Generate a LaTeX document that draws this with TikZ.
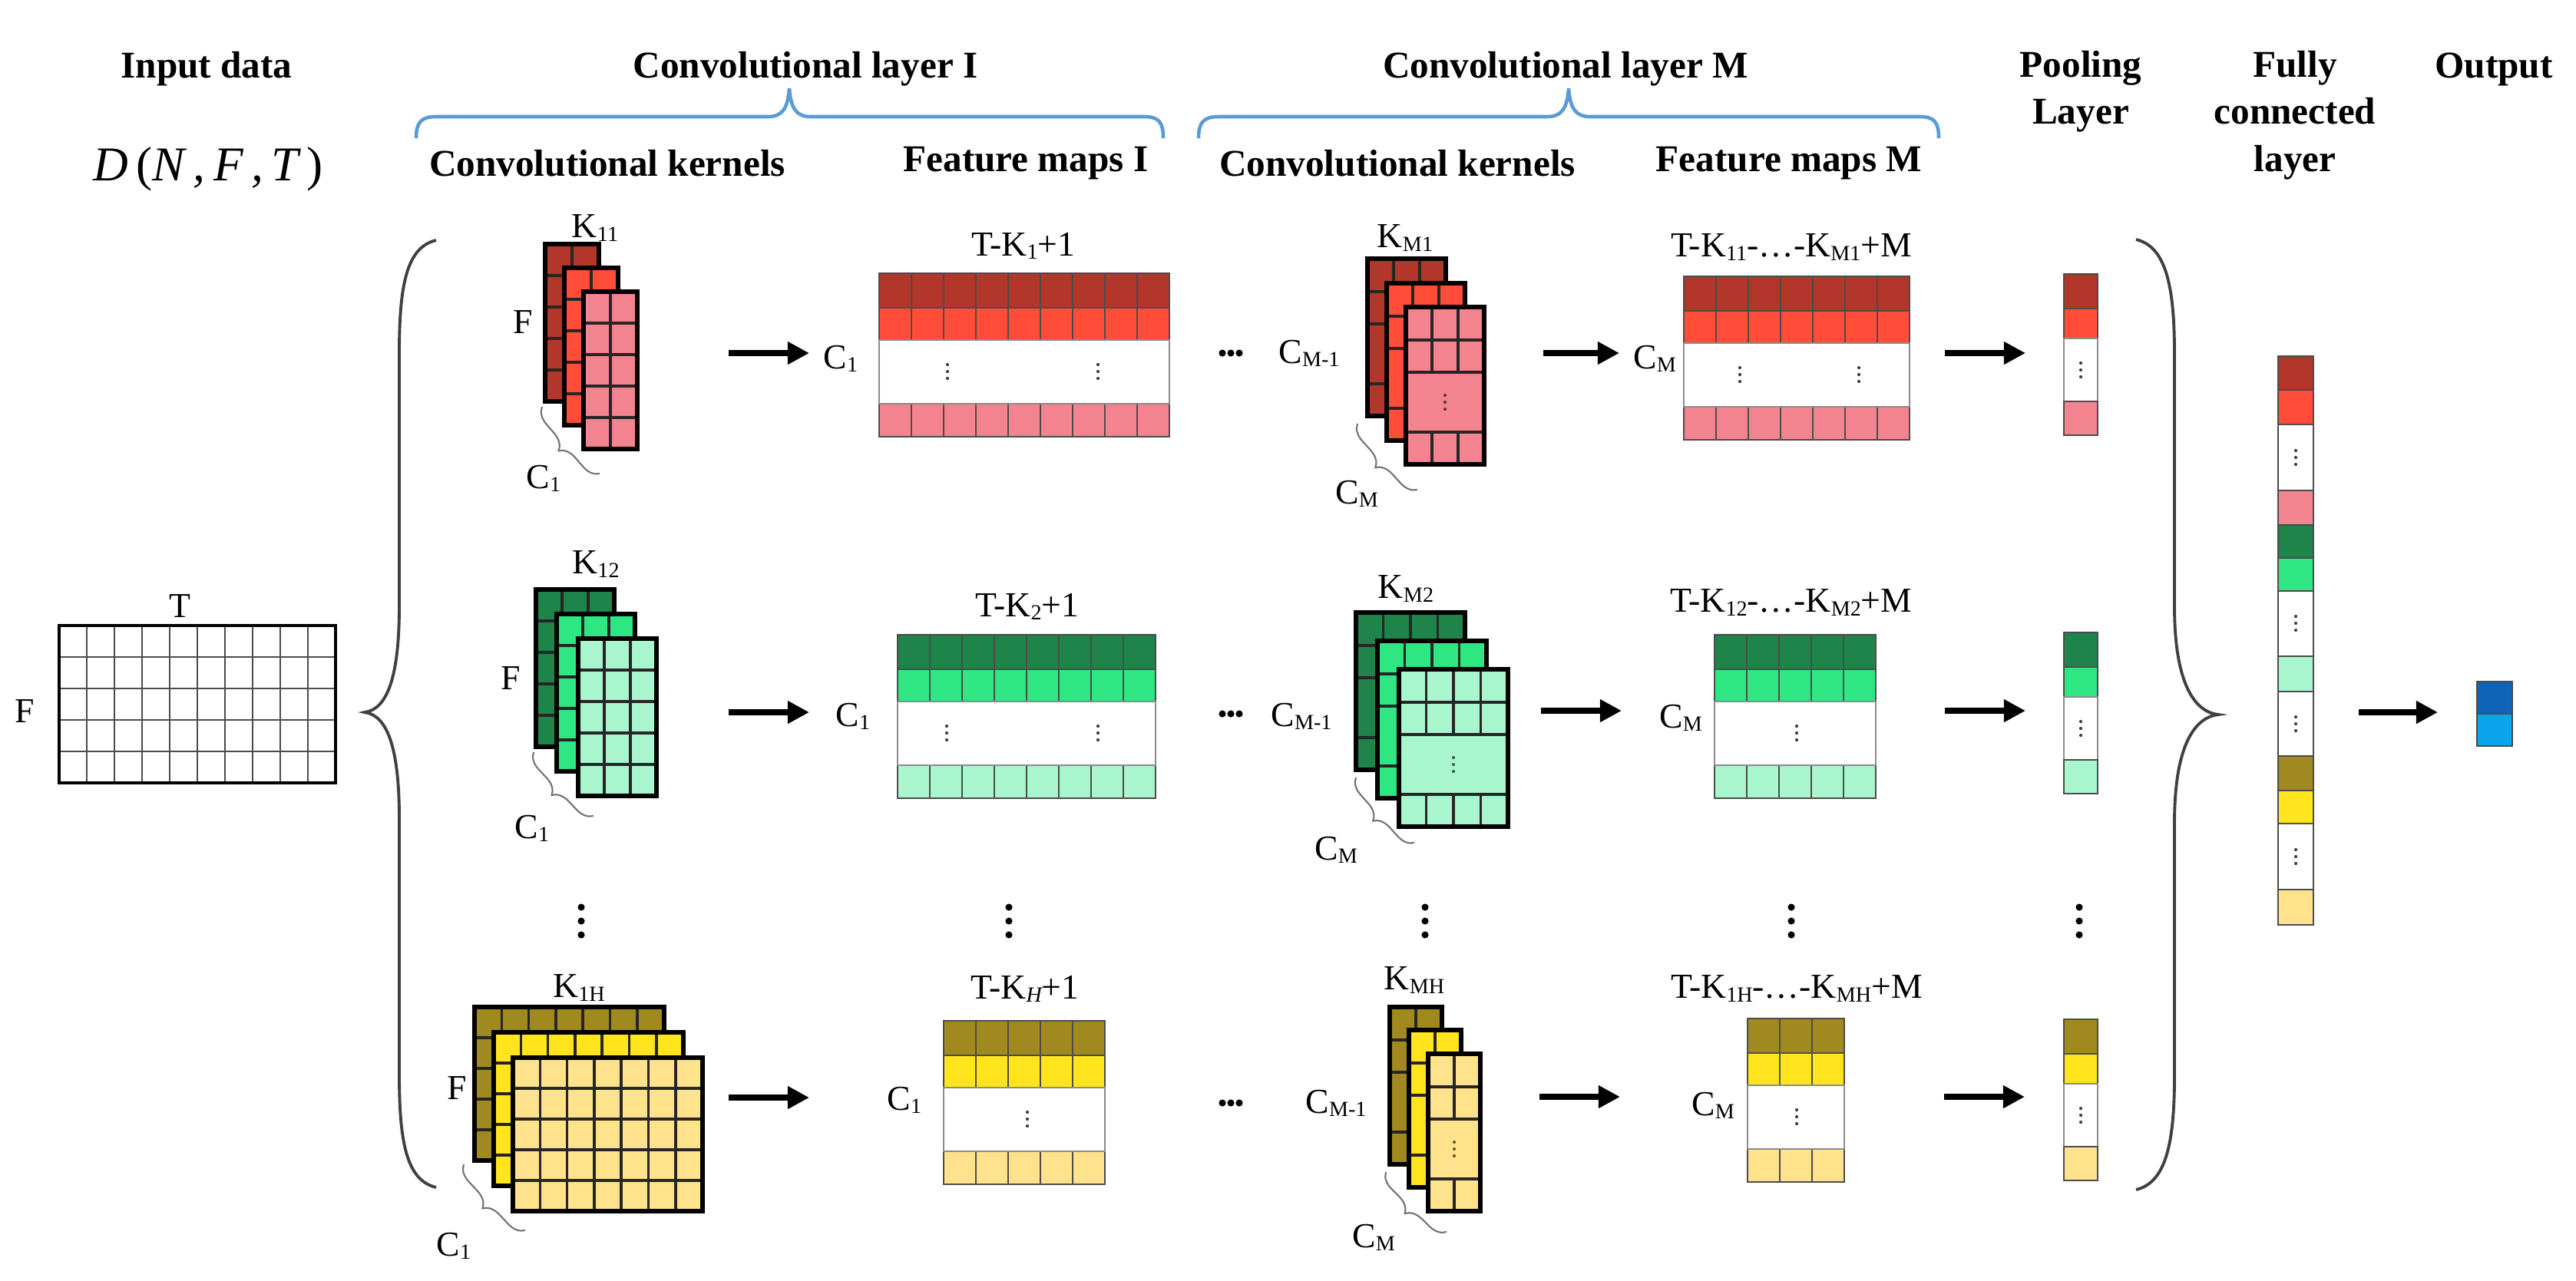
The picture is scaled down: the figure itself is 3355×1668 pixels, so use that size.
\documentclass[tikz,border=0pt]{standalone}
\usepackage{fontspec}
\setmainfont{Liberation Serif}
\usetikzlibrary{arrows.meta,decorations.pathreplacing}
\definecolor{rdark}{RGB}{178,54,42}
\definecolor{rmid}{RGB}{255,77,58}
\definecolor{rlight}{RGB}{244,131,144}
\definecolor{gdark}{RGB}{30,132,73}
\definecolor{gmid}{RGB}{46,230,130}
\definecolor{glight}{RGB}{168,245,206}
\definecolor{ydark}{RGB}{160,138,32}
\definecolor{ymid}{RGB}{255,228,30}
\definecolor{ylight}{RGB}{255,226,140}
\definecolor{bdark}{RGB}{15,100,185}
\definecolor{blight}{RGB}{10,165,235}
\definecolor{bbrace}{RGB}{91,155,213}
\tikzset{kc/.append style={draw=black!85, line width=1pt}}
\tikzset{kb/.append style={draw=black, line width=1.6pt}}
\tikzset{fc/.append style={draw=black!70, line width=0.8pt}}
\tikzset{fw/.append style={draw=black!45, line width=0.8pt, fill=white}}
\tikzset{hd/.append style={font=\fontsize{14}{17.5}\selectfont\bfseries, align=center, inner sep=0pt}}
\tikzset{lb/.append style={font=\fontsize{13}{15}\selectfont, inner sep=0pt}}
\tikzset{ar/.append style={-{Triangle[length=8pt,width=8pt]}, line width=2.2pt}}
\tikzset{cb/.append style={decorate, decoration={brace, mirror, amplitude=6pt}, draw=black!55, line width=0.6pt}}
\tikzset{bb/.append style={draw=bbrace, line width=1.3pt}}
\tikzset{lbr/.append style={draw=black!75, line width=1.1pt}}
\newcommand{\subx}[1]{\raisebox{-0.2ex}{\fontsize{8}{8}\selectfont #1}}
% three small dots, one above the other
\newcommand{\vdts}[3]{\foreach \dd in {-9,0,9}{\fill[#3] ({#1},{#2+\dd}) circle (0.6pt);}}
% kernel slice: x y cols rows cellw cellh colour
\newcommand{\klayer}[7]{%
  \foreach \i in {1,...,#3}{\foreach \j in {1,...,#4}{%
    \draw[kc,fill=#7] ({#1+(\i-1)*#5},{#2+(\j-1)*#6}) rectangle ++(#5,#6);}}%
  \draw[kb] (#1,#2) rectangle ++({#3*#5},{#4*#6});}
% kernel slice with folded rows: x y cols cellw colour
\newcommand{\mlayer}[5]{%
  \foreach \i in {1,...,#3}{%
    \draw[kc,fill=#5] ({#1+(\i-1)*#4},#2) rectangle ++(#4,43);
    \draw[kc,fill=#5] ({#1+(\i-1)*#4},{#2+43}) rectangle ++(#4,42);
    \draw[kc,fill=#5] ({#1+(\i-1)*#4},{#2+163}) rectangle ++(#4,42);}%
  \draw[kc,fill=#5] (#1,{#2+85}) rectangle ++({#3*#4},78);
  \vdts{#1+#3*#4/2}{#2+124}{#5!40!black}
  \draw[kb] (#1,#2) rectangle ++({#3*#4},205);}
% feature map: x y cols dark mid light
\newcommand{\fmap}[6]{%
  \foreach \i in {1,...,#3}{%
    \draw[fc,fill=#4] ({#1+(\i-1)*42},#2) rectangle ++(42,45);
    \draw[fc,fill=#5] ({#1+(\i-1)*42},{#2+45}) rectangle ++(42,42);
    \draw[fc,fill=#6] ({#1+(\i-1)*42},{#2+170}) rectangle ++(42,43);}%
  \draw[fw] (#1,{#2+87}) rectangle ++({#3*42},83);}
% pooled column: x y dark mid light
\newcommand{\pcol}[5]{%
  \draw[fc,fill=#3] (#1,#2) rectangle ++(44,45);
  \draw[fc,fill=#4] (#1,{#2+45}) rectangle ++(44,39);
  \draw[fw] (#1,{#2+84}) rectangle ++(44,82);
  \draw[fc,fill=#5] (#1,{#2+166}) rectangle ++(44,44);
  \vdts{#1+22}{#2+125}{black!75}}

\begin{document}
\begin{tikzpicture}[x=0.01cm,y=-0.01cm]
    \path[fill=white,use as bounding box] (0,0) rectangle (3355,1668);
    % headings
    \node[hd] (hin) at (269,90) {Input data};
    \node[hd] (hcv1) at (1049,90) {Convolutional layer I};
    \node[hd] (hcvm) at (2039,90) {Convolutional layer M};
    \node[hd] (hpl) at (2710,119) {Pooling\\Layer};
    \node[hd] (hfc) at (2989,150) {Fully\\connected\\layer};
    \node[hd] (hout) at (3248,90) {Output};
    \node[hd] (hk1) at (791,213) {Convolutional kernels};
    \node[hd] (hf1) at (1336,213) {Feature maps I};
    \node[hd] (hkm) at (1820,213) {Convolutional kernels};
    \node[hd] (hfm) at (2330,213) {Feature maps M};
    \node[font=\fontsize{18}{20}\selectfont\itshape, inner sep=0pt] (dnft) at (271,220) {D\,\textup{(}N\,,\,F\,,\,T\,\textup{)}};
    \draw[bb] (542,180) .. controls (542,160) and (548,152) .. (568,152) -- (1000,152) .. controls (1020,152) and (1026,140) .. (1028,115) .. controls (1030,140) and (1036,152) .. (1056,152) -- (1490,152) .. controls (1510,152) and (1515,160) .. (1515,180);
    \draw[bb] (1561,180) .. controls (1561,160) and (1567,152) .. (1587,152) -- (2015,152) .. controls (2035,152) and (2041,140) .. (2043,115) .. controls (2045,140) and (2051,152) .. (2071,152) -- (2500,152) .. controls (2520,152) and (2525,160) .. (2525,180);
    % input data
    \foreach \i in {1,...,9} \draw[fc] ({77+\i*36},815) -- ++(0,205);
    \foreach \j in {1,...,4} \draw[fc] (77,{815+\j*41}) -- ++(360,0);
    \draw[kb,line width=1.2pt] (77,815) rectangle (437,1020);
    \node[lb] (tin) at (234,790) {T};
    \node[lb] (fin) at (32,927) {F};
    \draw[lbr] (568,313) .. controls (530,322) and (520,370) .. (520,460) -- (520,790) .. controls (520,880) and (505,924) .. (475,928) .. controls (505,932) and (520,976) .. (520,1066) -- (520,1400) .. controls (520,1490) and (530,1538) .. (568,1547);
    % layer I kernels
    \klayer{710}{318}{2}{5}{35}{41}{rdark} \klayer{735}{349}{2}{5}{35}{41}{rmid} \klayer{760}{380}{2}{5}{35}{41}{rlight}
    \klayer{698}{768}{3}{5}{34}{41}{gdark} \klayer{725}{800}{3}{5}{34}{41}{gmid} \klayer{753}{832}{3}{5}{34}{41}{glight}
    \klayer{618}{1312}{7}{5}{35.3}{40}{ydark} \klayer{643}{1345}{7}{5}{35.3}{40}{ymid} \klayer{668}{1378}{7}{5}{35.3}{40}{ylight}
    \node[lb] (k11) at (775,297) {K\subx{11}};
    \node[lb] (k12) at (776,735) {K\subx{12}};
    \node[lb] (k1h) at (754,1287) {K\subx{1H}};
    \node[lb] (fa) at (681,420) {F};
    \node[lb] (fb) at (665,883) {F};
    \node[lb] (fc3) at (595,1417) {F};
    \draw[cb] (706,530) -- (781,617);
    \draw[cb] (695,980) -- (773,1063);
    \draw[cb] (604,1517) -- (684,1603);
    \node[lb] (ca) at (708,623) {C\subx{1}};
    \node[lb] (cb2) at (693,1079) {C\subx{1}};
    \node[lb] (cc) at (591,1623) {C\subx{1}};
    % feature maps I
    \fmap{1145}{356}{9}{rdark}{rmid}{rlight}
    \fmap{1169}{827}{8}{gdark}{gmid}{glight}
    \fmap{1229}{1330}{5}{ydark}{ymid}{ylight}
    \vdts{1234}{484}{black!75} \vdts{1430}{484}{black!75}
    \vdts{1233}{955}{black!75} \vdts{1430}{955}{black!75}
    \vdts{1338}{1458}{black!75}
    \node[lb] (t1) at (1333,320) {T-K\subx{1}+1};
    \node[lb] (t2) at (1338,790) {T-K\subx{2}+1};
    \node[lb] (t3) at (1335,1288) {T-K\subx{\itshape H}+1};
    \node[lb] (ci1) at (1095,467) {C\subx{1}};
    \node[lb] (ci2) at (1111,933) {C\subx{1}};
    \node[lb] (ci3) at (1178,1433) {C\subx{1}};
    % layer M kernels
    \mlayer{1781}{337}{3}{34}{rdark} \mlayer{1806}{369}{3}{34}{rmid} \mlayer{1831}{400}{3}{34}{rlight}
    \mlayer{1766}{798}{4}{35.5}{gdark} \mlayer{1794}{835}{4}{35.5}{gmid} \mlayer{1822}{872}{4}{35.5}{glight}
    \mlayer{1810}{1312}{2}{34}{ydark} \mlayer{1835}{1342}{2}{34}{ymid} \mlayer{1860}{1373}{2}{34}{ylight}
    \node[lb] (km1) at (1830,310) {K\subx{M1}};
    \node[lb] (km2) at (1831,767) {K\subx{M2}};
    \node[lb] (kmh) at (1842,1277) {K\subx{MH}};
    \node[lb] (cp1) at (1705,460) {C\subx{M-1}};
    \node[lb] (cp2) at (1695,933) {C\subx{M-1}};
    \node[lb] (cp3) at (1740,1437) {C\subx{M-1}};
    \draw[cb] (1768,552) -- (1846,638);
    \draw[cb] (1766,1013) -- (1842,1098);
    \draw[cb] (1805,1527) -- (1884,1605);
    \node[lb] (cm1) at (1767,643) {C\subx{M}};
    \node[lb] (cm2) at (1740,1107) {C\subx{M}};
    \node[lb] (cm3) at (1789,1612) {C\subx{M}};
    % feature maps M
    \fmap{2193}{360}{7}{rdark}{rmid}{rlight}
    \fmap{2233}{827}{5}{gdark}{gmid}{glight}
    \fmap{2276}{1327}{3}{ydark}{ymid}{ylight}
    \vdts{2266}{488}{black!75} \vdts{2421}{488}{black!75}
    \vdts{2340}{955}{black!75}
    \vdts{2340}{1455}{black!75}
    \node[lb] (tm1) at (2333,322) {T-K\subx{11}-…-K\subx{M1}+M};
    \node[lb] (tm2) at (2333,785) {T-K\subx{12}-…-K\subx{M2}+M};
    \node[lb] (tm3) at (2340,1288) {T-K\subx{1H}-…-K\subx{MH}+M};
    \node[lb] (co1) at (2155,467) {C\subx{M}};
    \node[lb] (co2) at (2189,935) {C\subx{M}};
    \node[lb] (co3) at (2231,1440) {C\subx{M}};
    % pooling, fully connected, output
    \pcol{2688}{357}{rdark}{rmid}{rlight}
    \pcol{2688}{824}{gdark}{gmid}{glight}
    \pcol{2688}{1328}{ydark}{ymid}{ylight}
    \draw[lbr] (2782,312) .. controls (2820,321) and (2832,370) .. (2832,460) -- (2832,790) .. controls (2832,884) and (2855,927) .. (2889,931) .. controls (2855,935) and (2832,978) .. (2832,1072) -- (2832,1402) .. controls (2832,1492) and (2820,1541) .. (2782,1550);
    \foreach \y/\h/\cc in {464/44/rdark, 508/45/rmid, 553/86/white, 639/45/rlight, 684/43/gdark, 727/43/gmid, 770/85/white, 855/46/glight, 901/84/white, 985/45/ydark, 1030/43/ymid, 1073/86/white, 1159/46/ylight}
        \draw[fc,fill=\cc] (2967,\y) rectangle ++(46,\h);
    \foreach \y in {596,812,943,1116} \vdts{2990}{\y}{black!75}
    \draw[fc,fill=bdark] (3226,888) rectangle ++(46,42);
    \draw[fc,fill=blight] (3226,930) rectangle ++(46,42);
    % dots
    \foreach \y in {460,930,1437} \foreach \dd in {-11,0,11} \fill ({1603+\dd},\y) circle (1.3pt);
    \foreach \x in {757,1314,1856,2333,2708} \foreach \dd in {-18,0,18} \fill (\x,{1200+\dd}) circle (1.3pt);
    % arrows
    \foreach \n/\xa/\xb/\y in {a/949/1054/460, b/2010/2109/460, c/2533/2638/460, d/949/1054/928, e/2007/2112/926, f/2533/2638/926, g/949/1054/1430, h/2005/2110/1429, i/2532/2637/1429, j/3072/3175/928}{
        \coordinate (s\n) at (\xa,\y);
        \coordinate (e\n) at (\xb,\y);
        \draw[ar] (s\n) -- (e\n);}
\end{tikzpicture}
\end{document}
